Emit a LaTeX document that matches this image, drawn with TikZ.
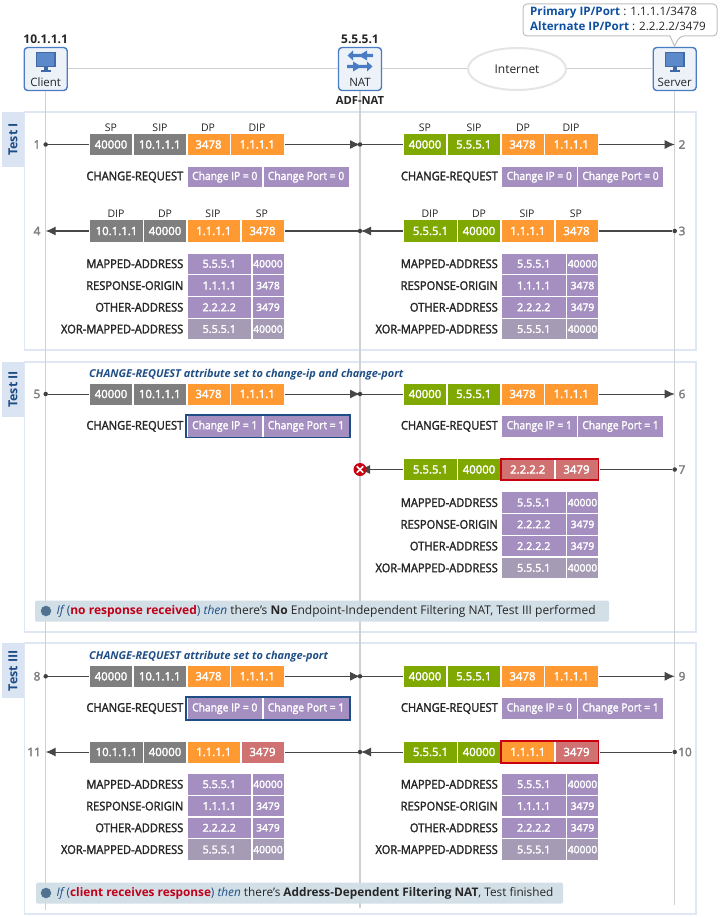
\documentclass[tikz,border=0pt]{standalone}
\usepackage{fontspec}
\setmainfont{Open Sans}
\newfontfamily\semif{Open Sans}[FakeBold=2,FakeStretch=0.92]
\newfontfamily\semig{Open Sans}[FakeBold=2.5]
\usetikzlibrary{arrows.meta,shapes.geometric}
\definecolor{cgray}{HTML}{7F7F7F}
\definecolor{cgreen}{HTML}{7FA800}
\definecolor{corange}{HTML}{FF9A33}
\definecolor{cpurple}{HTML}{A48FC0}
\definecolor{cxor}{HTML}{A59BB5}
\definecolor{cred}{HTML}{D07272}
\definecolor{cdred}{HTML}{C8000F}
\definecolor{cnavy}{HTML}{1F4E86}
\definecolor{cpanel}{HTML}{DFE7F5}
\definecolor{ctag}{HTML}{DAE4F3}
\definecolor{cline}{HTML}{CDD0D4}
\definecolor{cbanner}{HTML}{CFDDE6}
\definecolor{cbox}{HTML}{4A7CC4}
\definecolor{cnum}{HTML}{7F7F7F}
\definecolor{ctxt}{HTML}{262626}
\definecolor{cbul}{HTML}{4F7290}
\definecolor{calert}{HTML}{C00018}
\definecolor{ckey}{HTML}{0F4FA0}
\tikzset{
  x=1pt,y=-1pt,
  cellb/.style={inner sep=0pt,outer sep=0pt,text=white,font=\semig\fontsize{11.4}{12}\selectfont,draw=none},
  cgrayc/.style={fill=cgray},cgreenc/.style={fill=cgreen},corangec/.style={fill=corange},
  credc/.style={fill=cred},cpurplec/.style={fill=cpurple},cxorc/.style={fill=cxor},
  smallnum/.style={font=\semig\fontsize{10.3}{11}\selectfont},
  reqtxt/.style={font=\semif\fontsize{11.2}{12}\selectfont},
  ipc/.style={font=\semig\fontsize{10.8}{11}\selectfont},
  attr/.style={anchor=east,inner sep=0pt,text=ctxt,font=\semif\fontsize{12.1}{13}\selectfont},
  field/.style={inner sep=0pt,text=ctxt,font=\fontsize{10.5}{12}\selectfont},
  numl/.style={inner sep=0pt,text=cnum,font=\semig\fontsize{11.8}{12}\selectfont},
  flow/.style={draw=black!72,line width=1pt},
  tipped/.style={flow,-{Latex[length=10pt,width=9pt]}},
  dotn/.style={circle,fill=black!75,inner sep=0pt,minimum size=4.5pt},
  lifeline/.style={draw=cline,line width=1.2pt},
  panel/.style={draw=cpanel,line width=1.2pt,fill=white},
  tag/.style={fill=ctag,text=cnavy,rotate=90,inner sep=0pt,minimum width=55pt,minimum height=22pt,font=\fontsize{12.5}{13}\selectfont\bfseries},
  devbox/.style={draw=cbox,line width=1.4pt,rounded corners=3.5pt,fill=cbox!10,inner sep=0pt,minimum width=43pt,minimum height=43pt},
  devlab/.style={inner sep=0pt,text=ctxt,font=\fontsize{11.5}{12}\selectfont},
  head/.style={inner sep=0pt,text=ctxt,font=\fontsize{12}{13}\selectfont\bfseries},
  note/.style={anchor=west,inner sep=0pt,text=cnavy,font=\fontsize{10.9}{12}\selectfont\bfseries\itshape},
  bannerbox/.style={fill=cbanner,rounded corners=1.5pt,inner sep=0pt,opacity=.93},
  bannertxt/.style={anchor=west,inner sep=0pt,text=ctxt,font=\fontsize{12}{13}\selectfont},
  bulletn/.style={circle,fill=cbul,inner sep=0pt,minimum size=10.5pt},
  frameblue/.style={draw=cnavy,line width=1.6pt,inner sep=0pt},
  framered/.style={draw=cdred,line width=1.6pt,inner sep=0pt},
  calltxt/.style={anchor=west,inner sep=0pt,text=ctxt,font=\fontsize{11.6}{13}\selectfont},
}
% name, x1, x2, yc, height, style, text
\newcommand{\cellbox}[7]{\node[cellb,#6,minimum width={((#3)-(#2))*1pt},minimum height={#5*1pt}] (#1) at ({((#2)+(#3))/2},#4) {#7};}
\newcommand{\reqrow}[8]{%
  \cellbox{#1a}{#2}{#2+42}{#3}{21}{#4}{#5}
  \cellbox{#1b}{#2+43.5}{#2+96}{#3}{21}{#4}{#6}
  \cellbox{#1c}{#2+97.5}{#2+139.5}{#3}{21}{corangec}{#7}
  \cellbox{#1d}{#2+141}{#2+193.5}{#3}{21}{corangec}{#8}}
\newcommand{\resprow}[8]{%
  \cellbox{#1a}{#2}{#2+53}{#3}{21}{#4}{#5}
  \cellbox{#1b}{#2+54}{#2+96}{#3}{21}{#4}{#6}
  \def\stylec{#7}\def\styled{#8}\def\pfx{#1}\def\xbase{#2}\def\ybase{#3}\resprowb}
\newcommand{\resprowb}[2]{%
  \cellbox{\pfx c}{\xbase+97.5}{\xbase+150}{\ybase}{21}{\stylec}{#1}
  \cellbox{\pfx d}{\xbase+151.5}{\xbase+193.5}{\ybase}{21}{\styled}{#2}}
\newcommand{\crrow}[5]{%
  \node[attr] (#1l) at ({#2-4},#3) {CHANGE-REQUEST};
  \cellbox{#1a}{#2}{#2+74.5}{#3}{20.5}{cpurplec,reqtxt}{#4}
  \cellbox{#1b}{#2+76}{#2+161}{#3}{20.5}{cpurplec,reqtxt}{#5}}
\newcommand{\attrrows}[5]{%
  \node[attr] (#1ml) at ({#2-4},{#3+10.3}) {MAPPED-ADDRESS};
  \cellbox{#1ma}{#2}{#2+63.5}{{#3+10.3}}{20.6}{cpurplec,ipc}{5.5.5.1}
  \cellbox{#1mb}{#2+65}{#2+96}{{#3+10.3}}{20.6}{cpurplec,smallnum}{40000}
  \node[attr] (#1rl) at ({#2-4},{#3+32.1}) {RESPONSE-ORIGIN};
  \cellbox{#1ra}{#2}{#2+63.5}{{#3+32.1}}{20.6}{cpurplec,ipc}{#4}
  \cellbox{#1rb}{#2+65}{#2+96}{{#3+32.1}}{20.6}{cpurplec,smallnum}{#5}
  \node[attr] (#1ol) at ({#2-4},{#3+53.8}) {OTHER-ADDRESS};
  \cellbox{#1oa}{#2}{#2+63.5}{{#3+53.8}}{20.6}{cpurplec,ipc}{2.2.2.2}
  \cellbox{#1ob}{#2+65}{#2+96}{{#3+53.8}}{20.6}{cpurplec,smallnum}{3479}
  \node[attr] (#1xl) at ({#2-4},{#3+75.6}) {XOR-MAPPED-ADDRESS};
  \cellbox{#1xa}{#2}{#2+63.5}{{#3+75.6}}{20.6}{cxorc,ipc}{5.5.5.1}
  \cellbox{#1xb}{#2+65}{#2+96}{{#3+75.6}}{20.6}{cxorc,smallnum}{40000}}
\newcommand{\monitor}[1]{%
  \fill[cbox!85!black] ({#1-10},52) rectangle ({#1+10},67.5);
  \fill[cbox!90!white] ({#1-8.5},53.5) rectangle ({#1+8.5},66);
  \fill[cbox!85!black] ({#1-1.8},67.5) rectangle ({#1+1.8},71);
  \fill[cbox!85!black] ({#1-5},70.5) rectangle ({#1+5},72.5);}
\begin{document}
\begin{tikzpicture}
\useasboundingbox (0,0) rectangle (720,917);
\fill[white] (0,0) rectangle (720,917);
% panels
\draw[panel] (24.5,112) rectangle (696,350);
\draw[panel] (24.5,362) rectangle (696,632);
\draw[panel] (24.5,643) rectangle (696,914);
\node[tag] (tagA) at (13,139.5) {Test I};
\node[tag] (tagB) at (13,389.5) {Test II};
\node[tag] (tagC) at (13,670.5) {Test III};
% devices
\node[devbox] (client) at (45.7,69) {};
\node[devbox] (nat) at (360,69) {};
\node[devbox] (server) at (674.7,69) {};
\node[draw=black!10,line width=2pt,fill=white,ellipse,minimum width=98pt,minimum height=42pt,inner sep=0pt,font=\fontsize{12}{13}\selectfont,text=ctxt] (inet) at (517,69) {Internet};
\draw[draw=cline,line width=1pt] (client) -- (nat);
\draw[draw=cline,line width=1pt] (nat) -- (inet);
\draw[draw=cline,line width=1pt] (inet) -- (server);
% lifelines
\coordinate (clientEnd) at (45.7,910);
\coordinate (natEnd) at (360,908);
\coordinate (serverEnd) at (674.7,905);
\draw[lifeline] (client) -- (clientEnd);
\draw[lifeline] (nat) -- (natEnd);
\draw[lifeline] (server) -- (serverEnd);
\monitor{45.7}
\monitor{674.7}
\node[devlab] (clientL) at (45.7,82) {Client};
\node[devlab] (natL) at (360,82) {NAT};
\node[devlab] (serverL) at (674.7,82) {Server};
% NAT icon
\fill[cbox] (347.5,55.5) -- (353,50.5) -- (353,53.8) -- (361.5,53.8) -- (367,50.5) -- (367,53.8) -- (373,53.8) -- (373,57.2) -- (367,57.2) -- (367,60.5) -- (361.5,57.2) -- (353,57.2) -- (353,60.5) -- cycle;
\fill[cbox] (372.5,66.5) -- (367,61.5) -- (367,64.8) -- (358.5,64.8) -- (353,61.5) -- (353,64.8) -- (347,64.8) -- (347,68.2) -- (353,68.2) -- (353,71.5) -- (358.5,68.2) -- (367,68.2) -- (367,71.5) -- cycle;
\node[head] (hc) at (45.7,39) {10.1.1.1};
\node[head] (hn) at (360,39) {5.5.5.1};
\node[head,font=\fontsize{11.2}{12}\selectfont\bfseries] (adf) at (360,100) {ADF-NAT};
% server callout
\coordinate (calloutTip) at (674.5,46);
\draw[draw=black!25,fill=white,line width=1pt,rounded corners=4pt] (523,4) -- (717,4) -- (717,36) -- (680,36) [sharp corners] -- (calloutTip) -- (670,36) [rounded corners=4pt] -- (523,36) -- cycle;
\node[calltxt] (c1) at (530,12) {\textcolor{ckey}{\bfseries Primary IP/Port} : 1.1.1.1/3478};
\node[calltxt] (c2) at (530,26) {\textcolor{ckey}{\bfseries Alternate IP/Port} : 2.2.2.2/3479};
% ---------------- Test I
\foreach \n/\t/\xx in {fa/SP/111,fb/SIP/160,fc/DP/208,fd/DIP/257,fe/SP/425,ff/SIP/474,fg/DP/523,fh/DIP/571}{\node[field] (\n) at (\xx,128) {\t};}
\foreach \n/\t/\xx in {ga/DIP/116,gb/DP/165,gc/SIP/213,gd/SP/262,ge/DIP/430,gf/DP/479,gg/SIP/527,gh/SP/576}{\node[field] (\n) at (\xx,214) {\t};}
\reqrow{pa}{90}{144.5}{cgrayc}{40000}{10.1.1.1}{3478}{1.1.1.1}
\reqrow{pb}{404}{144.5}{cgreenc}{40000}{5.5.5.1}{3478}{1.1.1.1}
\crrow{ca}{187.5}{177}{Change IP = 0}{Change Port = 0}
\crrow{cb}{502}{177}{Change IP = 0}{Change Port = 0}
\resprow{pc}{404}{231}{cgreenc}{5.5.5.1}{40000}{corangec}{corangec}{1.1.1.1}{3478}
\resprow{pd}{90}{231}{cgrayc}{10.1.1.1}{40000}{corangec}{corangec}{1.1.1.1}{3478}
\attrrows{ta}{187.5}{253.5}{1.1.1.1}{3478}
\attrrows{tb}{502}{253.5}{1.1.1.1}{3478}
\node[numl] (n1) at (37,144.5) {1};
\node[numl] (n2) at (682,144.5) {2};
\node[numl] (n3) at (682,231) {3};
\node[numl] (n4) at (37,231) {4};
\node[dotn] (d1) at (45.7,144.5) {};
\node[dotn] (d1n) at (360,144.5) {};
\coordinate (e2) at (674.7,144.5);
\draw[flow] (d1) -- ([xshift=-1pt]paa.west);
\draw[tipped] ([xshift=1pt]pad.east) -- (d1n.center);
\draw[flow] (d1n) -- ([xshift=-1pt]pba.west);
\draw[tipped] ([xshift=1pt]pbd.east) -- (e2);
\node[dotn] (d3) at (674.7,231) {};
\node[dotn] (d3n) at (360,231) {};
\coordinate (e4) at (45.7,231);
\coordinate (t3) at (361,231);
\draw[flow] (d3) -- ([xshift=1pt]pcd.east);
\draw[tipped] ([xshift=-1pt]pca.west) -- (t3);
\draw[flow] (d3n) -- ([xshift=1pt]pdd.east);
\draw[tipped] ([xshift=-1pt]pda.west) -- (e4);
% ---------------- Test II
\node[note] (noteB) at (89,375) {CHANGE-REQUEST attribute set to change-ip and change-port};
\reqrow{pe}{90}{394}{cgrayc}{40000}{10.1.1.1}{3478}{1.1.1.1}
\reqrow{pf}{404}{394}{cgreenc}{40000}{5.5.5.1}{3478}{1.1.1.1}
\crrow{cc}{187.5}{426.3}{Change IP = 1}{Change Port = 1}
\crrow{cd}{502}{426.3}{Change IP = 1}{Change Port = 1}
\node[frameblue,minimum width=163.5pt,minimum height=22.5pt] (fc1) at (268,426.3) {};
\resprow{pg}{404}{469.5}{cgreenc}{5.5.5.1}{40000}{credc}{credc}{2.2.2.2}{3479}
\node[framered,minimum width=97.5pt,minimum height=21.5pt] (fr1) at (549.8,469.5) {};
\attrrows{tc}{502}{492.3}{2.2.2.2}{3479}
\node[numl] (n5) at (37,394) {5};
\node[numl] (n6) at (682,394) {6};
\node[numl] (n7) at (682,469.5) {7};
\node[dotn] (d5) at (45.7,394) {};
\node[dotn] (d5n) at (360,394) {};
\coordinate (e6) at (674.7,394);
\draw[flow] (d5) -- ([xshift=-1pt]pea.west);
\draw[tipped] ([xshift=1pt]ped.east) -- (d5n.center);
\draw[flow] (d5n) -- ([xshift=-1pt]pfa.west);
\draw[tipped] ([xshift=1pt]pfd.east) -- (e6);
\node[dotn] (d7) at (674.7,469.5) {};
\coordinate (t7) at (360,469.5);
\draw[flow] (d7) -- ([xshift=1pt]fr1.east);
\draw[tipped] ([xshift=-1pt]pga.west) -- (t7);
\node[circle,fill=cdred,minimum size=13pt,inner sep=0pt] (xm) at (360,469.5) {};
\draw[white,line width=1.7pt] (xm.center) ++(-3.2,-3.2) -- ++(6.4,6.4);
\draw[white,line width=1.7pt] (xm.center) ++(3.2,-3.2) -- ++(-6.4,6.4);
\node[bannerbox,minimum width=574pt,minimum height=21pt] (bb) at (322,611) {};
\node[bulletn] (bu1) at (46,611) {};
\node[bannertxt] (bt1) at (56.5,611) {{\itshape\color{cnavy}If} {\color{cnavy}(}{\bfseries\color{calert}no response received}{\color{cnavy})} {\itshape\color{cnavy}then} there's {\bfseries No} Endpoint-Independent Filtering NAT, Test III performed};
% ---------------- Test III
\node[note] (noteC) at (89,657) {CHANGE-REQUEST attribute set to change-port};
\reqrow{ph}{90}{676.3}{cgrayc}{40000}{10.1.1.1}{3478}{1.1.1.1}
\reqrow{pi}{404}{676.3}{cgreenc}{40000}{5.5.5.1}{3478}{1.1.1.1}
\crrow{ce}{187.5}{708.5}{Change IP = 0}{Change Port = 1}
\crrow{cf}{502}{708.5}{Change IP = 0}{Change Port = 1}
\node[frameblue,minimum width=163.5pt,minimum height=22.5pt] (fc2) at (268,708.5) {};
\resprow{pj}{404}{752}{cgreenc}{5.5.5.1}{40000}{corangec}{credc}{1.1.1.1}{3479}
\node[framered,minimum width=97.5pt,minimum height=21.5pt] (fr2) at (549.8,752) {};
\resprow{pk}{90}{752}{cgrayc}{10.1.1.1}{40000}{corangec}{credc}{1.1.1.1}{3479}
\attrrows{td}{187.5}{774}{1.1.1.1}{3479}
\attrrows{te}{502}{774}{1.1.1.1}{3479}
\node[numl] (n8) at (37,676.3) {8};
\node[numl] (n9) at (682,676.3) {9};
\node[numl] (n10) at (685,752) {10};
\node[numl] (n11) at (34,752) {11};
\node[dotn] (d8) at (45.7,676.3) {};
\node[dotn] (d8n) at (360,676.3) {};
\coordinate (e9) at (674.7,676.3);
\draw[flow] (d8) -- ([xshift=-1pt]pha.west);
\draw[tipped] ([xshift=1pt]phd.east) -- (d8n.center);
\draw[flow] (d8n) -- ([xshift=-1pt]pia.west);
\draw[tipped] ([xshift=1pt]pid.east) -- (e9);
\node[dotn] (d10) at (674.7,752) {};
\node[dotn] (d10n) at (360,752) {};
\coordinate (t10) at (361,752);
\coordinate (e11) at (45.7,752);
\draw[flow] (d10) -- ([xshift=1pt]fr2.east);
\draw[tipped] ([xshift=-1pt]pja.west) -- (t10);
\draw[flow] (d10n) -- ([xshift=1pt]pkd.east);
\draw[tipped] ([xshift=-1pt]pka.west) -- (e11);
\node[bannerbox,minimum width=527pt,minimum height=21pt] (bc) at (299.5,893) {};
\node[bulletn] (bu2) at (46,893) {};
\node[bannertxt,font=\fontsize{11.8}{13}\selectfont] (bt2) at (56.5,893) {{\itshape\color{cnavy}If} {\color{cnavy}(}{\bfseries\color{calert}client receives response}{\color{cnavy})} {\itshape\color{cnavy}then} there's {\bfseries Address-Dependent Filtering NAT}, Test finished};
\end{tikzpicture}
\end{document}
